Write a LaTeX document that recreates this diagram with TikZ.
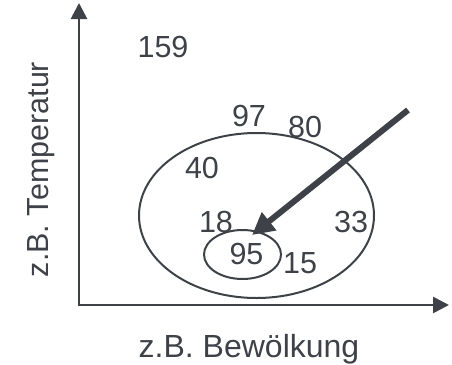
\documentclass[tikz,border=0pt]{standalone}
\usepackage{fontspec}
\setmainfont{Liberation Sans}
\usetikzlibrary{arrows.meta,shapes.geometric}
\definecolor{ink}{RGB}{62,66,72}
\begin{document}
\begin{tikzpicture}[x=1pt,y=-1pt,
  lbl/.style={text=ink,font=\fontsize{30.5}{36}\selectfont,inner sep=0pt},
  axis/.style={draw=ink,line width=2.7pt,-{Triangle[length=16pt,width=16pt]}},
  ring/.style={draw=ink,line width=2pt,ellipse,inner sep=0pt},
  pointer/.style={draw=ink,line width=6pt,-{Triangle[length=22pt,width=22pt]}}]
\useasboundingbox (0,0) rectangle (452,364);
\coordinate (o) at (79,305);
\coordinate (ytop) at (79,3);
\coordinate (xend) at (449,305);
\draw[axis] (o) -- (ytop);
\draw[axis] ([xshift=-1.35pt]o) -- (xend);
\node[ring,minimum width=235pt,minimum height=165pt] (big) at (256.5,215.5) {};
\node[ring,minimum width=77pt,minimum height=49pt] (small) at (242.5,254.5) {};
\node[lbl] (n159) at (163,46.5) {159};
\node[lbl] (n97) at (249,115.5) {97};
\node[lbl] (n80) at (305,127) {80};
\node[lbl] (n40) at (202,167.5) {40};
\node[lbl] (n18) at (216,222) {18};
\node[lbl] (n33) at (351,222) {33};
\node[lbl] (n95) at (246.5,254) {95};
\node[lbl] (n15) at (300,263) {15};
\coordinate (pstart) at (408,110);
\coordinate (ptip) at (252,235);
\draw[pointer] (pstart) -- (ptip);
\node[lbl,anchor=base,font=\fontsize{32}{38}\selectfont] (xl) at (249,357) {z.B. Bewölkung};
\node[lbl,anchor=base,rotate=90] (yl) at (48,169.5) {z.B. Temperatur};
\end{tikzpicture}
\end{document}
